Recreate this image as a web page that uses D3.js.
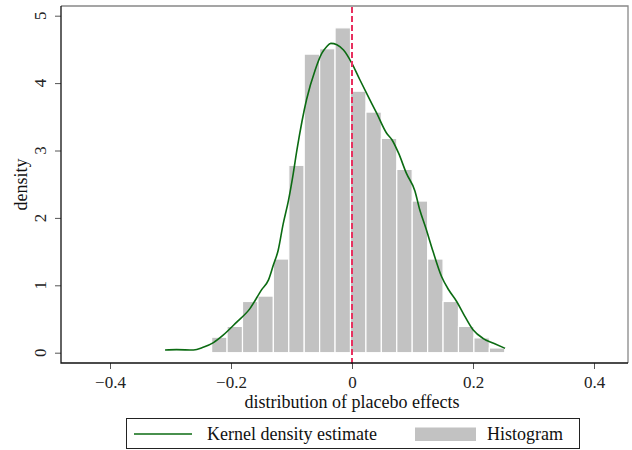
<!DOCTYPE html>
<html>
<head>
<meta charset='utf-8'>
<script src='https://d3js.org/d3.v7.min.js'></script>
<style>
    body { margin: 0; background: #fff; }
    svg { font-family: "Liberation Serif", "Times New Roman", serif; }
    .tick line { stroke: #555; }
</style>
</head>
<body>
<div id='chart'></div>
<script>

    // histogram bin edges (20 edges -> 19 bars) and bar heights
    const binEdges = [-0.232, -0.2065, -0.181, -0.1555, -0.130, -0.1045, -0.079, -0.0535, -0.028, -0.0025,
                      0.023, 0.0485, 0.074, 0.0995, 0.125, 0.1505, 0.176, 0.2015, 0.227, 0.2525];
    const binHeights = [0.23, 0.39, 0.76, 0.84, 1.39, 2.78, 4.43, 4.51, 4.82, 3.88,
                        3.57, 3.18, 2.72, 2.25, 1.39, 0.76, 0.39, 0.22, 0.07];

    // kernel density estimate
    const kdeX = [-0.309, -0.290, -0.262, -0.246, -0.229, -0.213, -0.191, -0.169, -0.149, -0.138,
                  -0.130, -0.122, -0.114, -0.105, -0.098, -0.091, -0.075, -0.061, -0.050, -0.042,
                  -0.035, -0.025, -0.014, 0.000, 0.013, 0.024, 0.041, 0.057, 0.066, 0.077,
                  0.090, 0.104, 0.112, 0.122, 0.134, 0.148, 0.160, 0.173, 0.184, 0.200,
                  0.217, 0.234, 0.253];
    const kdeY = [0.04, 0.045, 0.04, 0.08, 0.15, 0.26, 0.45, 0.65, 0.94, 1.08,
                  1.30, 1.52, 1.90, 2.26, 2.61, 3.01, 3.76, 4.19, 4.44, 4.54,
                  4.59, 4.57, 4.49, 4.29, 4.05, 3.85, 3.55, 3.26, 3.16, 2.96,
                  2.66, 2.40, 2.12, 1.85, 1.50, 1.13, 0.93, 0.76, 0.58, 0.34,
                  0.21, 0.14, 0.065];

    const xTicks = [-0.4, -0.2, 0, 0.2, 0.4];
    const yTicks = [0, 1, 2, 3, 4, 5];
    const refLine = 0;

    const xTitle = 'distribution of placebo effects';
    const yTitle = 'density';
    const legendLabels = ['Kernel density estimate', 'Histogram'];

    const W = 632, H = 450;
    const plot = { left: 61, right: 628, top: 6, bottom: 363 };

    const svg = d3.select('#chart').append('svg')
        .attr('width', W)
        .attr('height', H);

    const x = d3.scaleLinear().domain([-0.4, 0.4]).range([110, 594]);
    const y = d3.scaleLinear().domain([0, 5]).range([352.7, 15.7]);

    // plot frame (top/right in gray)
    svg.append('path')
        .attr('d', `M${plot.left},${plot.top}H${plot.right}V${plot.bottom}`)
        .attr('fill', 'none')
        .attr('stroke', '#888')
        .attr('stroke-width', 1.3);

    // histogram
    const bars = binHeights.map((h, i) => ({ x0: binEdges[i], x1: binEdges[i + 1], h: h }));
    svg.append('g').selectAll('rect')
        .data(bars)
        .enter().append('rect')
        .attr('x', d => x(d.x0))
        .attr('y', d => y(d.h))
        .attr('width', d => x(d.x1) - x(d.x0))
        .attr('height', d => y(0) - y(d.h))
        .attr('fill', '#c2c2c2')
        .attr('stroke', '#fff')
        .attr('stroke-width', 1.2);

    // kde line
    const line = d3.line()
        .x(d => x(d[0]))
        .y(d => y(d[1]))
        .curve(d3.curveMonotoneX);
    svg.append('path')
        .datum(kdeX.map((v, i) => [v, kdeY[i]]))
        .attr('d', line)
        .attr('fill', 'none')
        .attr('stroke', '#0b6b12')
        .attr('stroke-width', 1.6);

    // dashed reference line at zero
    svg.append('line')
        .attr('x1', x(refLine)).attr('x2', x(refLine))
        .attr('y1', plot.top + 1).attr('y2', plot.bottom + 4)
        .attr('stroke', '#e8305f')
        .attr('stroke-width', 2)
        .attr('stroke-dasharray', '6,3');

    // x axis
    const xAxis = svg.append('g')
        .attr('transform', `translate(0,${plot.bottom})`)
        .call(d3.axisBottom(x)
            .tickValues(xTicks)
            .tickSize(6)
            .tickPadding(7)
            .tickFormat(d => d === 0 ? '0' : d3.format('.1f')(d)));
    xAxis.select('.domain').remove();
    xAxis.selectAll('text')
        .attr('fill', '#222')
        .style('font-size', '17px')
        .style('font-family', '"Liberation Serif", serif');

    // y axis
    const yAxis = svg.append('g')
        .attr('transform', `translate(${plot.left},0)`)
        .call(d3.axisLeft(y).tickValues(yTicks).tickSize(6).tickFormat(''));
    yAxis.select('.domain').remove();

    svg.append('g').selectAll('text')
        .data(yTicks)
        .enter().append('text')
        .attr('transform', d => `translate(46,${y(d)}) rotate(-90)`)
        .attr('text-anchor', 'middle')
        .attr('fill', '#222')
        .style('font-size', '17px')
        .text(d => d);

    // axis lines (left and bottom)
    svg.append('path')
        .attr('d', `M${plot.left},${plot.top}V${plot.bottom}H${plot.right}`)
        .attr('fill', 'none')
        .attr('stroke', '#111')
        .attr('stroke-width', 1.3);

    // titles
    svg.append('text')
        .attr('x', x(0))
        .attr('y', 408)
        .attr('text-anchor', 'middle')
        .attr('fill', '#111')
        .style('font-size', '18px')
        .text(xTitle);

    svg.append('text')
        .attr('transform', `translate(27,${(plot.top + plot.bottom) / 2}) rotate(-90)`)
        .attr('text-anchor', 'middle')
        .attr('fill', '#111')
        .style('font-size', '18px')
        .text(yTitle);

    // legend
    const lg = svg.append('g');
    lg.append('rect')
        .attr('x', 126.5).attr('y', 418.5)
        .attr('width', 453).attr('height', 30)
        .attr('fill', '#fff')
        .attr('stroke', '#222')
        .attr('stroke-width', 1);
    lg.append('line')
        .attr('x1', 134).attr('x2', 192)
        .attr('y1', 434).attr('y2', 434)
        .attr('stroke', '#0b6b12')
        .attr('stroke-width', 1.6);
    lg.append('text')
        .attr('x', 207).attr('y', 440)
        .attr('fill', '#111')
        .style('font-size', '18px')
        .text(legendLabels[0]);
    lg.append('rect')
        .attr('x', 415).attr('y', 427.5)
        .attr('width', 61).attr('height', 13.5)
        .attr('fill', '#c2c2c2');
    lg.append('text')
        .attr('x', 487).attr('y', 440)
        .attr('fill', '#111')
        .style('font-size', '18px')
        .text(legendLabels[1]);

</script>
</body>
</html>
